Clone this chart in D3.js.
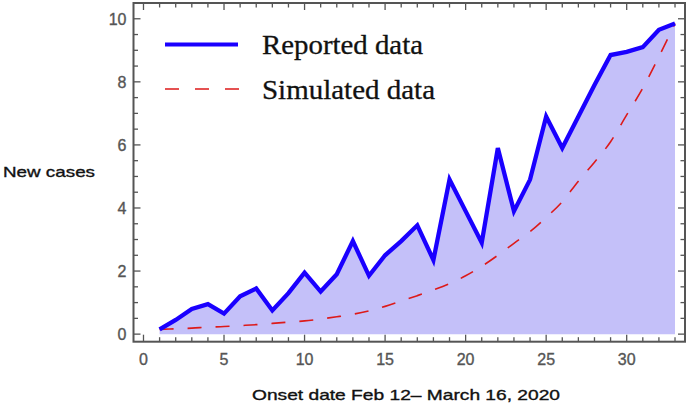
<!DOCTYPE html>
<html>
<head>
<meta charset="utf-8">
<script src="https://cdn.jsdelivr.net/npm/d3@7"></script>
<style>
  html, body { margin: 0; padding: 0; background: #fff; }
  svg { display: block; }
</style>
</head>
<body>
<svg id="chart" width="688" height="405"></svg>
<script>
// ---- data ----
const days = d3.range(1, 34); // onset days 1..33
const reported = [0.15, 0.45, 0.8, 0.95, 0.65, 1.2, 1.45, 0.75, 1.3, 1.95,
                  1.35, 1.9, 2.95, 1.85, 2.5, 2.95, 3.45, 2.35, 4.9, 3.9,
                  2.9, 5.9, 3.9, 4.9, 6.9, 5.9, 6.9, 7.9, 8.85, 8.95,
                  9.1, 9.65, 9.85];
const simulated = [0.15, 0.17, 0.19, 0.22, 0.24, 0.27, 0.3, 0.34, 0.38, 0.42,
                   0.48, 0.55, 0.63, 0.74, 0.88, 1.05, 1.22, 1.4, 1.6, 1.85,
                   2.15, 2.5, 2.88, 3.25, 3.7, 4.2, 4.85, 5.45, 6.1, 6.95,
                   7.8, 8.8, 9.85];
const xMajorTicks = [0, 5, 10, 15, 20, 25, 30];
const yMajorTicks = [0, 2, 4, 6, 8, 10];
const legendLabels = ["Reported data", "Simulated data"];
const xLabel = "Onset date Feb 12\u2013 March 16, 2020";
const yLabel = "New cases";

// ---- scales ----
const x = d3.scaleLinear().domain([-0.62, 33.62]).range([133.5, 685]);
const y = d3.scaleLinear().domain([-0.24, 10.5]).range([341.7, 3]);

const svg = d3.select("#chart");
const frameColor = "#555";
const blue = "#1a00ff";
const red = "#dd1a1a";
const fill = "rgb(196,192,249)";

const pts = days.map((d, i) => ({ d, r: reported[i], s: simulated[i] }));

// fill area
svg.append("path")
  .datum(pts)
  .attr("d", d3.area().x(p => x(p.d)).y0(y(0)).y1(p => y(p.r)))
  .attr("fill", fill);

// simulated dashed line
svg.append("path")
  .datum(pts)
  .attr("d", d3.line().x(p => x(p.d)).y(p => y(p.s)).curve(d3.curveMonotoneX))
  .attr("fill", "none")
  .attr("stroke", red)
  .attr("stroke-width", 1.6)
  .attr("stroke-dasharray", "14,14");

// reported line
svg.append("path")
  .datum(pts)
  .attr("d", d3.line().x(p => x(p.d)).y(p => y(p.r)))
  .attr("fill", "none")
  .attr("stroke", blue)
  .attr("stroke-width", 4.3)
  .attr("stroke-linejoin", "miter");

// ---- frame ----
const [x0, x1] = x.range();
const [yb, yt] = y.range();
svg.append("rect")
  .attr("x", x0).attr("y", yt)
  .attr("width", x1 - x0).attr("height", yb - yt)
  .attr("fill", "none").attr("stroke", frameColor).attr("stroke-width", 2);

const xMinor = d3.range(0, 34).filter(v => v % 5 !== 0);
const yMinor = d3.range(0, 10.51, 0.5).filter(v => v % 2 !== 0);
const majLen = 7, minLen = 4.5;

function ticks(vals, len) {
  svg.append("g").selectAll("line").data(vals.x).join("line")
    .attr("x1", d => x(d)).attr("x2", d => x(d))
    .attr("y1", yb).attr("y2", yb - len)
    .attr("stroke", frameColor).attr("stroke-width", 1.3);
  svg.append("g").selectAll("line").data(vals.x).join("line")
    .attr("x1", d => x(d)).attr("x2", d => x(d))
    .attr("y1", yt).attr("y2", yt + len)
    .attr("stroke", frameColor).attr("stroke-width", 1.3);
  svg.append("g").selectAll("line").data(vals.y).join("line")
    .attr("y1", d => y(d)).attr("y2", d => y(d))
    .attr("x1", x0).attr("x2", x0 + len)
    .attr("stroke", frameColor).attr("stroke-width", 1.3);
  svg.append("g").selectAll("line").data(vals.y).join("line")
    .attr("y1", d => y(d)).attr("y2", d => y(d))
    .attr("x1", x1).attr("x2", x1 - len)
    .attr("stroke", frameColor).attr("stroke-width", 1.3);
}
ticks({ x: xMajorTicks, y: yMajorTicks }, majLen);
ticks({ x: xMinor, y: yMinor }, minLen);

// tick labels
const tickFont = "Liberation Sans, Arial, sans-serif";
svg.append("g").selectAll("text").data(xMajorTicks).join("text")
  .attr("x", d => x(d)).attr("y", 365)
  .attr("text-anchor", "middle")
  .attr("font-family", tickFont).attr("font-size", 16)
  .attr("fill", "#555").attr("stroke", "#555").attr("stroke-width", 0.35)
  .text(d => d);
svg.append("g").selectAll("text").data(yMajorTicks).join("text")
  .attr("x", 126.5).attr("y", d => y(d))
  .attr("dy", "0.36em")
  .attr("text-anchor", "end")
  .attr("font-family", tickFont).attr("font-size", 16)
  .attr("fill", "#555").attr("stroke", "#555").attr("stroke-width", 0.35)
  .text(d => d);

// axis labels
svg.append("text")
  .attr("x", 252).attr("y", 400)
  .attr("font-family", tickFont).attr("font-size", 15)
  .attr("textLength", 308).attr("lengthAdjust", "spacingAndGlyphs")
  .attr("fill", "#111").attr("stroke", "#111").attr("stroke-width", 0.35)
  .text(xLabel);
svg.append("text")
  .attr("x", 3).attr("y", 177)
  .attr("font-family", tickFont).attr("font-size", 15)
  .attr("textLength", 92).attr("lengthAdjust", "spacingAndGlyphs")
  .attr("fill", "#111").attr("stroke", "#111").attr("stroke-width", 0.35)
  .text(yLabel);

// legend
const legend = svg.append("g");
legend.append("line")
  .attr("x1", 165).attr("x2", 238).attr("y1", 44.5).attr("y2", 44.5)
  .attr("stroke", blue).attr("stroke-width", 4);
legend.append("line")
  .attr("x1", 165).attr("x2", 242).attr("y1", 89).attr("y2", 89)
  .attr("stroke", red).attr("stroke-width", 1.6)
  .attr("stroke-dasharray", "14,16");
const serif = "Liberation Serif, Times New Roman, serif";
legend.append("text")
  .attr("x", 262).attr("y", 54)
  .attr("font-family", serif).attr("font-size", 27)
  .attr("textLength", 161).attr("lengthAdjust", "spacingAndGlyphs")
  .attr("fill", "#111").attr("stroke", "#111").attr("stroke-width", 0.3)
  .text(legendLabels[0]);
legend.append("text")
  .attr("x", 262).attr("y", 99)
  .attr("font-family", serif).attr("font-size", 27)
  .attr("textLength", 173).attr("lengthAdjust", "spacingAndGlyphs")
  .attr("fill", "#111").attr("stroke", "#111").attr("stroke-width", 0.3)
  .text(legendLabels[1]);
</script>
</body>
</html>
